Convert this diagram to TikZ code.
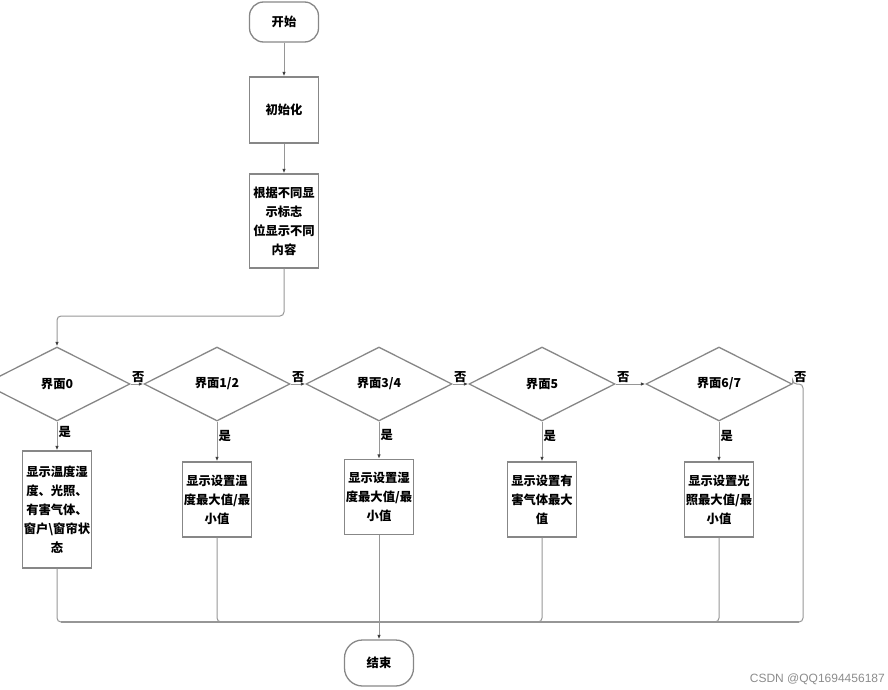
\documentclass[tikz,border=0pt]{standalone}
\usepackage{fontspec}
\setmainfont{Liberation Sans}
\newfontfamily\cjk{Noto Sans CJK SC}
\usetikzlibrary{shapes.geometric,arrows.meta}
\definecolor{linegray}{RGB}{150,150,150}
\definecolor{boxgray}{RGB}{135,135,135}
\tikzset{flow/.style={draw=linegray, line width=1pt}}
\tikzset{arr/.style={flow, -{Latex[length=4.5pt,width=3.5pt,color=black!75]}}}

\begin{document}
\begin{tikzpicture}[
		x=1pt, y=-1pt,
		cjktext/.style={font=\cjk\bfseries\fontsize{12.3}{19}\selectfont},
		procbox/.style={cjktext, draw=boxgray, line width=1.3pt, minimum width=69pt, align=center, inner sep=1pt},
		termbox/.style={procbox, rounded corners=#1},
		termbox/.default=14pt,
		decide/.style={cjktext, diamond, draw=boxgray, line width=1.3pt, minimum width=146pt, minimum height=74pt, inner sep=0pt},
		lbl/.style={cjktext, inner sep=1pt}
		]
		\clip (0,0) rectangle (888,690);
		% start and preparation
		\node[termbox, minimum height=40pt] (start) at (284,22) {开始};
		\node[procbox, minimum height=66pt] (init) at (284,110) {初始化};
		\node[procbox, minimum height=94pt] (show) at (284,221) {根据不同显\\示标志\\位显示不同\\内容};
		% one diamond per screen, one box under each
		\node[decide] (d0) at (57,384) {界面0};
		\node[decide] (d1) at (217,384) {界面1/2};
		\node[decide] (d2) at (379,384) {界面3/4};
		\node[decide] (d3) at (542,384) {界面5};
		\node[decide] (d4) at (719,384) {界面6/7};
		\node[procbox, minimum height=117pt] (b0) at (57,509.5) {显示温度湿\\度、光照、\\有害气体、\\窗户\textbackslash 窗帘状\\态};
		\node[procbox, minimum height=75pt] (b1) at (217,499.5) {显示设置温\\度最大值/最\\小值};
		\node[procbox, minimum height=75pt] (b2) at (379,497) {显示设置湿\\度最大值/最\\小值};
		\node[procbox, minimum height=75pt] (b3) at (542,499.5) {显示设置有\\害气体最大\\值};
		\node[procbox, minimum height=75pt] (b4) at (719,499.5) {显示设置光\\照最大值/最\\小值};
		\node[termbox=18pt, minimum height=46pt] (end) at (379,663) {结束};
		\coordinate (turn) at (57,316);
		\coordinate (merge) at (379,622);
		\coordinate (rcorner) at (803,622);
		\coordinate (busl) at (61,622);
		\coordinate (busr) at (799,622);
		
		\draw[arr] (start) -- (init);
		\draw[arr] (init) -- (show);
		\draw[arr, rounded corners=4pt] (show.south) |- (turn) -- (d0.north);
		\foreach \a/\b in {d0/d1, d1/d2, d2/d3, d3/d4}
		\draw[arr] (\a.east) -- node[lbl, pos=0, anchor=south west] {否} (\b.west);
		\foreach \i in {0,...,4}
		\draw[arr] (d\i.south) -- node[lbl, pos=0.35, right] {是} (b\i.north);
		% everything meets at the bottom line
		\draw[flow, rounded corners=4pt] (d4.east) -- node[lbl, pos=0, anchor=south west] {否} +(0,0) -| (rcorner) -- (merge);
		\foreach \i in {0,1,3,4}
		\draw[flow, rounded corners=4pt] (b\i.south) |- (merge);
		\draw[flow, line width=1.4pt] (busl) -- (busr);
		\draw[flow] (b2.south) -- (merge);
		\draw[arr] (merge) -- (end.north);
		\node[text=black!45, font=\fontsize{12}{12}\selectfont, anchor=south east, inner sep=1pt] (mark) at (886,686) {CSDN @QQ1694456187};
	\end{tikzpicture}
\end{document}
